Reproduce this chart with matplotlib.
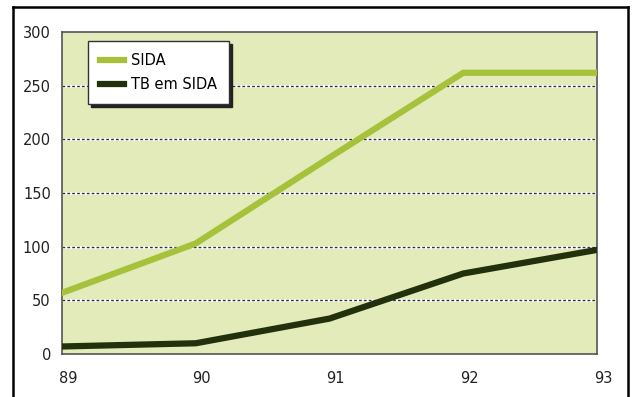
import matplotlib
matplotlib.use("Agg")
import matplotlib.pyplot as plt
import matplotlib.transforms as mtransforms

years = [89, 90, 91, 92, 93]
sida = [57, 103, 183, 262, 262]
tb_sida = [7, 10, 33, 75, 97]
yticks = [0, 50, 100, 150, 200, 250, 300]
xtick_labels = ["89", "90", "91", "92", "93"]

fig = plt.figure(figsize=(6.33, 3.97), dpi=100)
fig.patch.set_facecolor("white")

# outer frame
frame_kw = dict(color="black", lw=1.8, transform=fig.transFigure)
fig.add_artist(plt.Line2D([13 / 633, 13 / 633], [0, 1 - 7 / 397], **frame_kw))
fig.add_artist(plt.Line2D([628 / 633, 628 / 633], [0, 1 - 7 / 397], **frame_kw))
fig.add_artist(plt.Line2D([13 / 633, 628 / 633], [1 - 7 / 397, 1 - 7 / 397], **frame_kw))

ax = fig.add_axes([62 / 633, 1 - 354 / 397, (597 - 62) / 633, (354 - 32) / 397])
ax.set_facecolor("#e4ebbb")
ax.set_xlim(89, 93)
ax.set_ylim(0, 300)

for v in yticks[1:-1]:
    ax.axhline(v, color="white", lw=2.0, zorder=1)
    ax.axhline(v, color="#333333", lw=1.0, ls=(0, (2, 1.5)), zorder=1.5)

ax.plot(years, sida, color="#a6c13a", lw=4.5, solid_joinstyle="miter", zorder=3, label="SIDA")
ax.plot(years, tb_sida, color="#22300c", lw=4.5, solid_joinstyle="miter", zorder=3,
        label="TB em SIDA")

ax.set_yticks(yticks)
ax.set_xticks(years)
ax.set_xticklabels(xtick_labels)
ax.tick_params(axis="both", length=0, labelsize=10.5, colors="#222222")
ax.tick_params(axis="y", pad=8)
ax.tick_params(axis="x", pad=12)
shift = mtransforms.ScaledTranslation(6 / 100, 0, fig.dpi_scale_trans)
for lbl in ax.get_xticklabels():
    lbl.set_transform(lbl.get_transform() + shift)
for side in ["top", "right", "left", "bottom"]:
    ax.spines[side].set_color("#555555")
    ax.spines[side].set_linewidth(1.2)

leg = ax.legend(loc="upper left", bbox_to_anchor=(0.035, 0.995), frameon=True, fancybox=False,
                shadow={"color": "#222222", "alpha": 1.0}, fontsize=10.5, handlelength=1.6,
                handletextpad=0.5, borderpad=0.85, labelspacing=0.6, edgecolor="#333333")
leg.get_frame().set_linewidth(1.0)
leg.get_frame().set_facecolor("white")
leg.set_zorder(5)

fig.savefig("out.png", dpi=100)
